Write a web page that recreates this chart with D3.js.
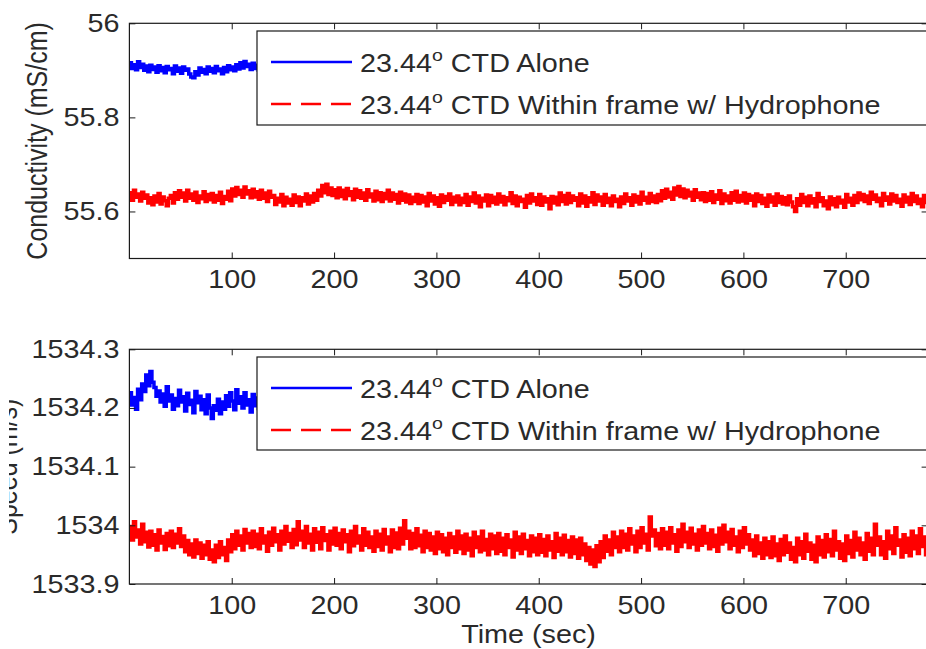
<!DOCTYPE html>
<html><head><meta charset="utf-8">
<script src="https://cdn.jsdelivr.net/npm/d3@7"></script>
<style>
body{margin:0;background:#fff;overflow:hidden}
text{font-family:"Liberation Sans",Arial,sans-serif;fill:#2a2a2a}
</style></head>
<body><svg id="chart" width="926" height="649"></svg>
<script>
// ---------------- data ----------------
const timeStep = 2;            // seconds between samples
const timeDomain = [0, 780];
const xTickValues = [100, 200, 300, 400, 500, 600, 700];
const condDomain = [55.5, 56];
const condTicks = [55.6, 55.8, 56];
const speedDomain = [1533.9, 1534.3];
const speedTicks = [1533.9, 1534, 1534.1, 1534.2, 1534.3];
const legendAngle = "23.44";
const legendLabels = [" CTD Alone", " CTD Within frame w/ Hydrophone"];
const xLabel = "Time (sec)";
const condLabel = "Conductivity (mS/cm)";
const speedLabel = "Speed (m/s)";

const condAlone = [
55.916,55.904,55.912,55.901,55.918,55.906,55.913,55.900,55.909,55.897,55.911,55.902,55.907,55.896,55.910,55.899,55.906,55.895,55.908,55.901,
55.904,55.893,55.909,55.898,55.905,55.894,55.907,55.900,55.903,55.892,55.886,55.884,55.897,55.890,55.905,55.896,55.902,55.893,55.907,55.898,
55.904,55.895,55.908,55.899,55.903,55.893,55.906,55.897,55.910,55.901,55.907,55.899,55.912,55.903,55.916,55.905,55.919,55.908,55.913,55.902,
55.915,55.904,55.911,55.900,55.913];

const condFrame = [
55.640,55.624,55.645,55.630,55.637,55.622,55.641,55.628,55.635,55.618,55.629,55.614,55.633,55.620,55.638,55.616,55.631,55.623,55.612,55.628,
55.634,55.618,55.640,55.626,55.644,55.630,55.639,55.622,55.645,55.628,55.637,55.624,55.641,55.619,55.633,55.627,55.642,55.621,55.636,55.625,
55.638,55.620,55.634,55.624,55.641,55.617,55.632,55.626,55.643,55.623,55.648,55.633,55.651,55.636,55.645,55.630,55.652,55.637,55.644,55.629,
55.647,55.631,55.642,55.626,55.645,55.628,55.639,55.621,55.643,55.630,55.634,55.615,55.628,55.620,55.636,55.612,55.630,55.618,55.626,55.613,
55.635,55.619,55.631,55.612,55.629,55.622,55.637,55.616,55.633,55.620,55.638,55.624,55.645,55.633,55.655,55.640,55.658,55.636,55.650,55.634,
55.646,55.629,55.650,55.632,55.645,55.627,55.649,55.634,55.642,55.625,55.647,55.630,55.644,55.628,55.639,55.624,55.646,55.631,55.637,55.622,
55.643,55.625,55.640,55.621,55.638,55.627,55.645,55.622,55.639,55.626,55.636,55.618,55.641,55.624,55.637,55.620,55.635,55.617,55.630,55.621,
55.636,55.617,55.634,55.620,55.631,55.612,55.638,55.622,55.633,55.616,55.629,55.611,55.635,55.619,55.632,55.624,55.637,55.615,55.630,55.620,
55.633,55.614,55.628,55.619,55.636,55.613,55.631,55.621,55.639,55.618,55.633,55.610,55.628,55.622,55.635,55.612,55.634,55.619,55.630,55.616,
55.637,55.620,55.632,55.614,55.629,55.623,55.640,55.617,55.633,55.612,55.630,55.621,55.626,55.609,55.634,55.618,55.637,55.622,55.629,55.615,
55.636,55.613,55.631,55.620,55.627,55.606,55.632,55.618,55.630,55.614,55.639,55.621,55.634,55.616,55.638,55.619,55.633,55.624,55.629,55.612,
55.637,55.618,55.633,55.611,55.629,55.620,55.640,55.615,55.635,55.622,55.631,55.613,55.636,55.619,55.628,55.612,55.633,55.621,55.626,55.610,
55.631,55.617,55.637,55.622,55.629,55.613,55.635,55.620,55.632,55.616,55.641,55.624,55.630,55.618,55.638,55.621,55.633,55.619,55.636,55.623,
55.644,55.628,55.647,55.631,55.641,55.626,55.650,55.635,55.653,55.632,55.648,55.629,55.645,55.633,55.641,55.624,55.646,55.630,55.639,55.625,
55.640,55.621,55.638,55.624,55.642,55.619,55.635,55.626,55.644,55.617,55.637,55.623,55.633,55.618,55.640,55.624,55.643,55.620,55.634,55.622,
55.639,55.618,55.636,55.624,55.633,55.612,55.637,55.621,55.634,55.617,55.628,55.611,55.635,55.620,55.631,55.613,55.637,55.619,55.632,55.616,
55.629,55.614,55.633,55.620,55.610,55.600,55.627,55.613,55.636,55.619,55.630,55.612,55.633,55.618,55.627,55.610,55.638,55.621,55.629,55.612,
55.622,55.606,55.631,55.614,55.627,55.610,55.630,55.618,55.624,55.609,55.636,55.620,55.628,55.613,55.634,55.619,55.639,55.625,55.636,55.621,
55.633,55.617,55.641,55.626,55.635,55.621,55.628,55.612,55.638,55.624,55.631,55.616,55.637,55.622,55.634,55.619,55.626,55.611,55.635,55.620,
55.630,55.615,55.638,55.621,55.633,55.617,55.626,55.610,55.634,55.619,55.628];

const speedAlone = [
1534.226,1534.205,1534.218,1534.198,1534.232,1534.214,1534.241,1534.228,1534.256,1534.238,1534.262,1534.244,1534.235,1534.220,1534.229,1534.210,1534.224,1534.203,1534.236,1534.212,
1534.222,1534.198,1534.216,1534.204,1534.230,1534.210,1534.219,1534.195,1534.225,1534.206,1534.213,1534.192,1534.228,1534.209,1534.220,1534.197,1534.214,1534.190,1534.222,1534.200,
1534.182,1534.204,1534.196,1534.215,1534.190,1534.210,1534.198,1534.221,1534.203,1534.226,1534.212,1534.197,1534.231,1534.208,1534.219,1534.200,1534.226,1534.205,1534.214,1534.193,
1534.223,1534.204,1534.217,1534.199,1534.220];

const speedFrame = [
1533.998,1533.975,1534.006,1533.980,1533.992,1533.968,1534.002,1533.972,1533.988,1533.963,1533.990,1533.966,1533.984,1533.958,1533.992,1533.970,1533.981,1533.959,1533.986,1533.965,
1533.990,1533.962,1533.985,1533.970,1533.994,1533.964,1533.982,1533.955,1533.974,1533.950,1533.968,1533.946,1533.975,1533.952,1533.970,1533.944,1533.966,1533.950,1533.972,1533.942,
1533.958,1533.938,1533.966,1533.945,1533.972,1533.950,1533.962,1533.940,1533.975,1533.955,1533.984,1533.960,1533.990,1533.966,1533.982,1533.958,1533.993,1533.970,1533.986,1533.962,
1533.990,1533.964,1533.985,1533.960,1533.994,1533.970,1533.982,1533.956,1533.988,1533.966,1533.995,1533.972,1533.984,1533.958,1533.990,1533.968,1533.998,1533.973,1533.986,1533.962,
1533.993,1533.967,1534.006,1533.975,1533.990,1533.962,1533.998,1533.970,1533.985,1533.958,1533.994,1533.971,1533.988,1533.960,1533.996,1533.974,1533.984,1533.958,1533.990,1533.968,
1533.995,1533.966,1533.986,1533.960,1533.992,1533.972,1533.984,1533.955,1533.990,1533.965,1533.998,1533.970,1533.982,1533.958,1533.994,1533.966,1533.988,1533.962,1533.980,1533.956,
1533.990,1533.964,1533.985,1533.958,1533.993,1533.968,1533.980,1533.955,1533.992,1533.962,1533.987,1533.960,1533.995,1533.968,1534.008,1533.978,1533.990,1533.960,1533.986,1533.962,
1533.994,1533.965,1533.983,1533.955,1533.990,1533.962,1533.986,1533.958,1533.980,1533.952,1533.988,1533.960,1533.984,1533.955,1533.978,1533.950,1533.986,1533.962,1533.980,1533.954,
1533.990,1533.960,1533.982,1533.952,1533.985,1533.958,1533.978,1533.948,1533.988,1533.962,1533.980,1533.955,1533.990,1533.958,1533.976,1533.950,1533.985,1533.960,1533.982,1533.952,
1533.986,1533.956,1533.978,1533.950,1533.984,1533.962,1533.975,1533.946,1533.988,1533.958,1533.980,1533.952,1533.985,1533.960,1533.974,1533.948,1533.982,1533.955,1533.978,1533.950,
1533.984,1533.954,1533.976,1533.948,1533.982,1533.958,1533.972,1533.945,1533.986,1533.956,1533.978,1533.950,1533.983,1533.955,1533.974,1533.946,1533.980,1533.952,1533.975,1533.944,
1533.978,1533.950,1533.968,1533.940,1533.962,1533.934,1533.958,1533.930,1533.965,1533.938,1533.972,1533.945,1533.982,1533.956,1533.975,1533.950,1533.988,1533.962,1533.980,1533.955,
1533.990,1533.962,1533.985,1533.958,1533.994,1533.968,1533.982,1533.955,1533.990,1533.962,1533.996,1533.970,1533.985,1533.958,1534.014,1533.982,1533.992,1533.965,1533.986,1533.960,
1533.994,1533.966,1533.988,1533.960,1533.996,1533.970,1533.984,1533.956,1533.992,1533.964,1534.002,1533.972,1533.988,1533.962,1533.995,1533.968,1533.985,1533.958,1533.992,1533.966,
1533.998,1533.970,1533.986,1533.960,1533.992,1533.964,1533.983,1533.956,1533.995,1533.968,1534.000,1533.972,1533.988,1533.960,1533.993,1533.966,1533.980,1533.955,1533.990,1533.962,
1533.996,1533.968,1533.984,1533.958,1533.975,1533.948,1533.982,1533.952,1533.970,1533.944,1533.978,1533.950,1533.972,1533.945,1533.980,1533.948,1533.968,1533.940,1533.976,1533.950,
1533.982,1533.954,1533.970,1533.942,1533.962,1533.938,1533.978,1533.950,1533.972,1533.944,1533.985,1533.956,1533.970,1533.942,1533.966,1533.938,1533.980,1533.950,1533.974,1533.946,
1533.984,1533.955,1533.976,1533.948,1533.990,1533.958,1533.972,1533.944,1533.968,1533.940,1533.982,1533.952,1533.974,1533.946,1533.988,1533.958,1533.978,1533.950,1533.970,1533.942,
1533.986,1533.956,1533.978,1533.950,1534.002,1533.966,1533.980,1533.950,1533.972,1533.944,1533.990,1533.960,1533.982,1533.952,1533.996,1533.966,1533.975,1533.946,1533.984,1533.954,
1533.978,1533.948,1533.990,1533.960,1533.982,1533.952,1533.994,1533.964,1533.980,1533.950,1533.974];

// ---------------- drawing ----------------
const SX = 1.15;          // horizontal glyph stretch of the original
const FS = 25;
const TXT = "#2a2a2a";
const svg = d3.select("#chart");
const x = d3.scaleLinear().domain(timeDomain).range([129.4, 927.6]);
const fmt = d => d3.format(".1f")(d).replace(/\.0$/, "");

function panel(cfg) {
  const y = d3.scaleLinear().domain(cfg.domain).range([cfg.bottom, cfg.top]);
  const g = svg.append("g");
  const line = d3.line().x((d, i) => x(i * timeStep)).y(d => y(d)).curve(d3.curveStepAfter);

  g.append("path").datum(cfg.frame).attr("d", line)
    .attr("fill", "none").attr("stroke", "#ff0000").attr("stroke-width", 3.5);
  g.append("path").datum(cfg.alone).attr("d", line)
    .attr("fill", "none").attr("stroke", "#0000ff").attr("stroke-width", 3.5);

  // frame
  g.append("rect").attr("x", x.range()[0]).attr("y", cfg.top)
    .attr("width", x.range()[1] - x.range()[0]).attr("height", cfg.bottom - cfg.top)
    .attr("fill", "none").attr("stroke", "#1a1a1a").attr("stroke-width", 1.2);

  const styleAxis = sel => {
    sel.select(".domain").remove();
    sel.selectAll("line").attr("stroke", "#1a1a1a");
    sel.selectAll("text").attr("font-size", FS).attr("fill", TXT)
      .attr("font-family", '"Liberation Sans",Arial,sans-serif');
  };
  const bx = g.append("g").attr("transform", `translate(0,${cfg.bottom})`)
    .call(d3.axisBottom(x).tickValues(xTickValues).tickSize(-6).tickPadding(12).tickFormat(fmt))
    .call(styleAxis);
  bx.selectAll("text").attr("transform", `scale(${SX},1)`);
  g.append("g").attr("transform", `translate(0,${cfg.top})`)
    .call(d3.axisTop(x).tickValues(xTickValues).tickSize(-6).tickFormat(""))
    .call(styleAxis);
  const ly = g.append("g").attr("transform", `translate(${x.range()[0]},0)`)
    .call(d3.axisLeft(y).tickValues(cfg.ticks).tickSize(-6).tickPadding(8.6).tickFormat(fmt))
    .call(styleAxis);
  ly.selectAll("text").attr("transform", `scale(${SX},1)`);
  g.append("g").attr("transform", `translate(${x.range()[1]},0)`)
    .call(d3.axisRight(y).tickValues(cfg.ticks).tickSize(-6).tickFormat(""))
    .call(styleAxis);

  // y label
  const lg = g.append("g");
  if (cfg.clipLabel) lg.attr("clip-path", "url(#lblclip)");
  lg.append("text").attr("font-size", FS).attr("text-anchor", "middle")
    .attr("transform", `translate(${cfg.labelX},${(cfg.top + cfg.bottom) / 2}) scale(${SX},1) rotate(-90)`)
    .text(cfg.label);

  // legend
  const L = cfg.legend;
  g.append("rect").attr("x", 257).attr("y", L.top).attr("width", 700).attr("height", L.h)
    .attr("fill", "#fff").attr("stroke", "#1a1a1a").attr("stroke-width", 1.2);
  const rows = [{c: "#0000ff", dash: null, y: L.top + 31}, {c: "#ff0000", dash: "20,10", y: L.top + 73}];
  rows.forEach((r, i) => {
    g.append("line").attr("x1", 271).attr("x2", 352).attr("y1", r.y).attr("y2", r.y)
      .attr("stroke", r.c).attr("stroke-width", 2.5).attr("stroke-dasharray", r.dash);
    const t = g.append("text").attr("font-size", FS)
      .attr("transform", `translate(360,${r.y + 10}) scale(${SX},1)`);
    t.append("tspan").text(legendAngle);
    t.append("tspan").attr("font-size", 17).attr("dy", -11).text("o");
    t.append("tspan").attr("dy", 11).text(legendLabels[i]);
  });
}

svg.append("defs").append("clipPath").attr("id", "lblclip")
  .append("rect").attr("x", 9).attr("y", 0).attr("width", 100).attr("height", 649);

panel({domain: condDomain, ticks: condTicks, top: 23.3, bottom: 258.5,
  alone: condAlone, frame: condFrame, label: condLabel, labelX: 47,
  legend: {top: 31, h: 94}});
panel({domain: speedDomain, ticks: speedTicks, top: 349.3, bottom: 584,
  alone: speedAlone, frame: speedFrame, label: speedLabel, labelX: 17, clipLabel: true,
  legend: {top: 357, h: 93}});

svg.append("text").attr("font-size", FS).attr("text-anchor", "middle")
  .attr("transform", `translate(${(x.range()[0] + x.range()[1]) / 2},643) scale(${SX},1)`)
  .text(xLabel);
</script></body></html>
